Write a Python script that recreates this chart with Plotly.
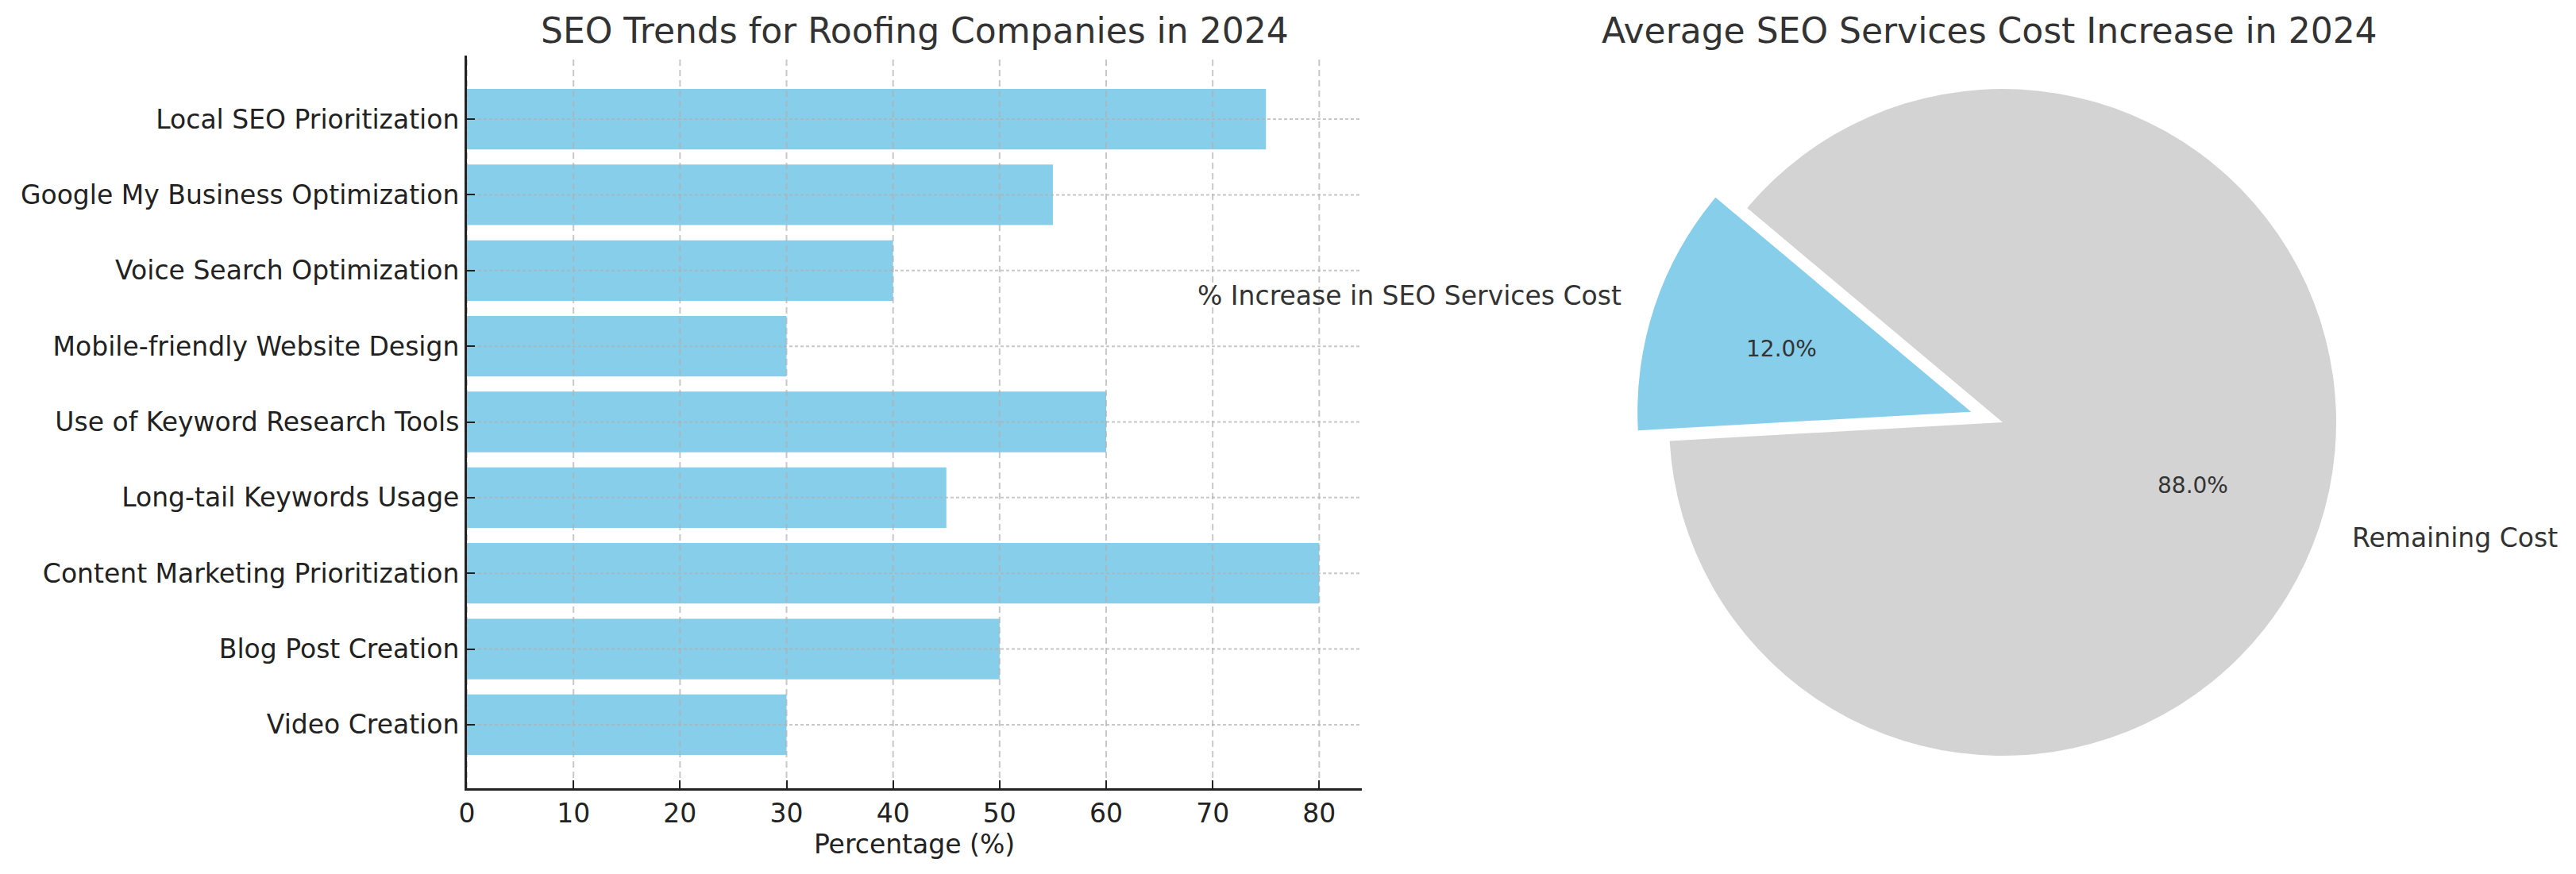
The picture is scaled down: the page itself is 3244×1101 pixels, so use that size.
import math
import plotly.graph_objects as go

# ---- data ----
categories = [
    "Local SEO Prioritization",
    "Google My Business Optimization",
    "Voice Search Optimization",
    "Mobile-friendly Website Design",
    "Use of Keyword Research Tools",
    "Long-tail Keywords Usage",
    "Content Marketing Prioritization",
    "Blog Post Creation",
    "Video Creation",
]
percentages = [75, 55, 40, 30, 60, 45, 80, 50, 30]
x_ticks = [0, 10, 20, 30, 40, 50, 60, 70, 80]

pie_labels = ["% Increase in SEO Services Cost", "Remaining Cost"]
pie_values = [12, 88]
pie_explode = [0.1, 0]
pie_start_angle = 140  # degrees, counter-clockwise from 3 o'clock

bar_title = "SEO Trends for Roofing Companies in 2024"
pie_title = "Average SEO Services Cost Increase in 2024"
x_title = "Percentage (%)"

# ---- styles / layout ----
FONT = "DejaVu Sans"
BAR_COLOR = "#87CEEB"
PIE_COLORS = ["#87CEEB", "#D3D3D3"]
GRID_COLOR = "rgba(176,176,176,0.7)"
AXIS_COLOR = "#222222"
W, H = 3244, 1101
OFF = 8  # page offset of the plot div


def fx(p):
    return (p - OFF) / W


def fy(p):
    return 1 - (p - OFF) / H


n = len(categories)
x_max = max(percentages) * 1.05
y_pad = 0.05 * (n - 1 + 0.8) + 0.4
y_range = [n - 1 + y_pad, -y_pad]

# plotly: counter-clockwise pies place the first slice clockwise of `rotation`
total = sum(pie_values)
first_share = pie_values[0] / total * 360
pie_rotation = -(pie_start_angle - 90) - first_share

bar_dom_x = [fx(588), fx(1715)]
bar_dom_y = [fy(993), fy(70)]
PIE_CX, PIE_CY, PIE_BOX = 2522, 532, 924
pie_dom_x = [fx(PIE_CX - PIE_BOX / 2), fx(PIE_CX + PIE_BOX / 2)]
pie_dom_y = [fy(PIE_CY + PIE_BOX / 2), fy(PIE_CY - PIE_BOX / 2)]
pie_r = PIE_BOX / (2 + 2 * max(pie_explode))  # plotly's radius rule

fig = go.Figure()

fig.add_trace(go.Bar(
    x=percentages, y=categories, orientation="h",
    marker=dict(color=BAR_COLOR, line=dict(width=0)),
    width=0.8, xaxis="x", yaxis="y", showlegend=False, hoverinfo="x+y",
))

# grid lines drawn above the bars (as in the reference)
vx, vy = [], []
for t in x_ticks:
    vx += [t, t, None]
    vy += [y_range[0], y_range[1], None]
fig.add_trace(go.Scatter(
    x=vx, y=vy, mode="lines", xaxis="x", yaxis="y2",
    line=dict(color=GRID_COLOR, width=2, dash="8px,5px"),
    showlegend=False, hoverinfo="skip",
))
hx, hy = [], []
for c in categories:
    hx += [0, x_max, None]
    hy += [c, c, None]
fig.add_trace(go.Scatter(
    x=hx, y=hy, mode="lines", xaxis="x", yaxis="y",
    line=dict(color=GRID_COLOR, width=2, dash="4px,3px"),
    showlegend=False, hoverinfo="skip",
))

fig.add_trace(go.Pie(
    labels=pie_labels, values=pie_values, sort=False,
    direction="counterclockwise", rotation=pie_rotation,
    pull=pie_explode, marker=dict(colors=PIE_COLORS, line=dict(width=0)),
    textinfo="none",
    domain=dict(x=pie_dom_x, y=pie_dom_y), showlegend=False,
))

# matplotlib-style pie labels (label at 1.1 r, percentage at 0.6 r)
annotations = [
    dict(text=bar_title, x=fx(1152), y=fy(39), xref="paper", yref="paper",
         xanchor="center", yanchor="middle", showarrow=False,
         font=dict(family=FONT, size=44, color="#333333")),
    dict(text=pie_title, x=fx(2505), y=fy(39), xref="paper", yref="paper",
         xanchor="center", yanchor="middle", showarrow=False,
         font=dict(family=FONT, size=44, color="#333333")),
]
theta0 = pie_start_angle
for lab, val, ex in zip(pie_labels, pie_values, pie_explode):
    share = val / total * 360
    mid = math.radians(theta0 + share / 2)
    theta0 += share
    c, s = math.cos(mid), math.sin(mid)
    lx = PIE_CX + (ex + 1.1) * pie_r * c
    ly = PIE_CY - (ex + 1.1) * pie_r * s
    annotations.append(dict(
        text=lab, x=fx(lx), y=fy(ly), xref="paper", yref="paper",
        xanchor="right" if c < 0 else "left", yanchor="middle", showarrow=False,
        font=dict(family=FONT, size=33, color="#333333")))
    px_ = PIE_CX + (ex + 0.6) * pie_r * c
    py_ = PIE_CY - (ex + 0.6) * pie_r * s
    annotations.append(dict(
        text=f"{val / total * 100:.1f}%", x=fx(px_), y=fy(py_), xref="paper", yref="paper",
        xanchor="center", yanchor="middle", showarrow=False,
        font=dict(family=FONT, size=28, color="#333333")))

fig.update_layout(
    width=W, height=H, autosize=False,
    margin=dict(l=0, r=0, t=0, b=0, pad=0),
    paper_bgcolor="white", plot_bgcolor="white",
    font=dict(family=FONT, size=33, color="#222222"),
    xaxis=dict(
        domain=bar_dom_x, range=[0, x_max], tickvals=x_ticks,
        showgrid=False, zeroline=False, automargin=False,
        showline=True, linecolor=AXIS_COLOR, linewidth=3,
        ticks="inside", ticklen=10, tickwidth=2, tickcolor=AXIS_COLOR,
        tickfont=dict(size=33, color="#222222"),
        title=dict(text=x_title, font=dict(size=33, color="#222222"), standoff=6),
        anchor="y",
    ),
    yaxis=dict(
        domain=bar_dom_y, range=y_range, type="category",
        categoryorder="array", categoryarray=categories,
        showgrid=False, zeroline=False, automargin=False,
        showline=True, linecolor=AXIS_COLOR, linewidth=3,
        ticks="inside", ticklen=10, tickwidth=2, tickcolor=AXIS_COLOR,
        tickfont=dict(size=33, color="#222222"),
        ticklabelstandoff=0,
        anchor="x",
    ),
    yaxis2=dict(
        domain=bar_dom_y, range=[y_range[0], y_range[1]], overlaying="y",
        visible=False, anchor="x", automargin=False,
    ),
    annotations=annotations,
)

fig.write_html("out.html")
